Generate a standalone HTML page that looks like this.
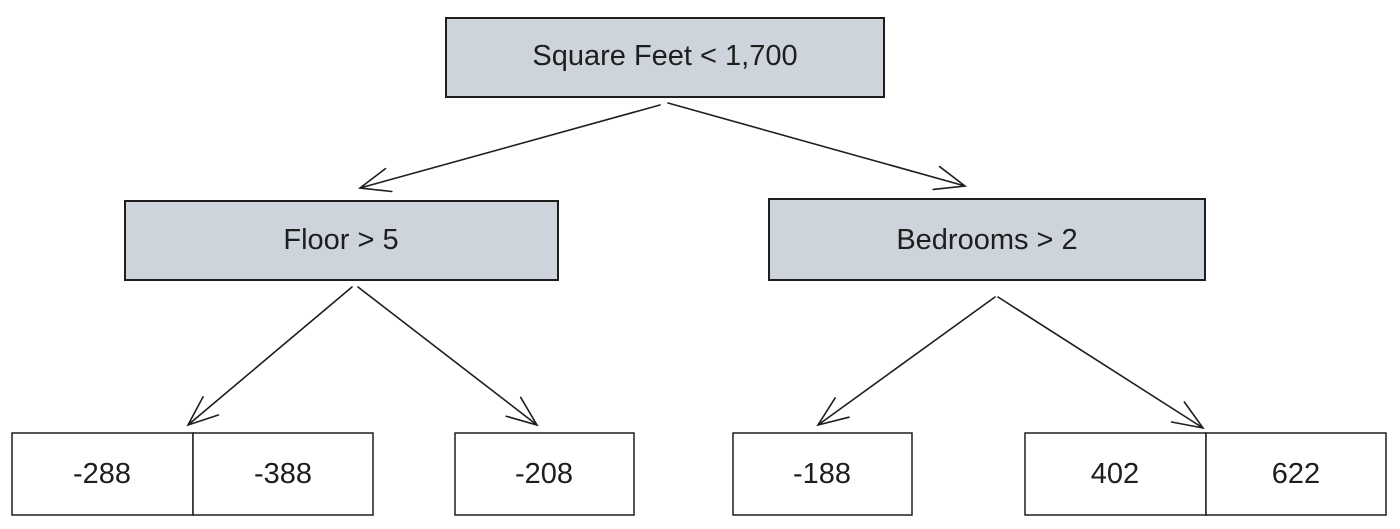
<!DOCTYPE html>
<html><head><meta charset="utf-8"><style>
html,body{margin:0;padding:0;background:#fff;}
svg{display:block;}
text{font-family:"Liberation Sans",sans-serif;font-size:29px;fill:#1e1e1e;text-anchor:middle;dominant-baseline:central;}
</style></head><body>
<svg width="1400" height="529" viewBox="0 0 1400 529">
<g fill="#ced4dc" stroke="#1e1e1e" stroke-width="2">
<rect x="446" y="18" width="438" height="79"/>
<rect x="125" y="201" width="433" height="79"/>
<rect x="769" y="199" width="436" height="81"/>
</g>
<g fill="#fff" stroke="#1e1e1e" stroke-width="1.5">
<rect x="12" y="433" width="181" height="82"/>
<rect x="193" y="433" width="180" height="82"/>
<rect x="455" y="433" width="179" height="82"/>
<rect x="733" y="433" width="179" height="82"/>
<rect x="1025" y="433" width="181" height="82"/>
<rect x="1206" y="433" width="180" height="82"/>
</g>
<text x="665" y="56">Square Feet &lt; 1,700</text>
<text x="341" y="240">Floor &gt; 5</text>
<text x="987" y="240">Bedrooms &gt; 2</text>
<text x="102" y="474">-288</text>
<text x="283" y="474">-388</text>
<text x="544" y="474">-208</text>
<text x="822" y="474">-188</text>
<text x="1115" y="474">402</text>
<text x="1296" y="474">622</text>
<g id="arrows" stroke="#1e1e1e" stroke-width="1.6" fill="none" stroke-linecap="round"></g>
</svg>
<script>
const arrows=[[660,105,360,188],[668,103,965,186],[352,287,188,425],[358,287,537,425],[995,297,818,425],[998,297,1203,428]];
const g=document.getElementById('arrows');
arrows.forEach((a,i)=>{
 const [x1,y1,x2,y2]=a;const ang=Math.atan2(y2-y1,x2-x1);const L=32,s=0.38;
 const p=document.createElementNS('http://www.w3.org/2000/svg','path');
 const ax=x2-L*Math.cos(ang-s),ay=y2-L*Math.sin(ang-s),bx=x2-L*Math.cos(ang+s),by=y2-L*Math.sin(ang+s);
 p.setAttribute('d',`M${x1} ${y1}L${x2} ${y2}M${ax} ${ay}L${x2} ${y2}L${bx} ${by}`);
 
 
 g.appendChild(p);
});
</script>
</body></html>
